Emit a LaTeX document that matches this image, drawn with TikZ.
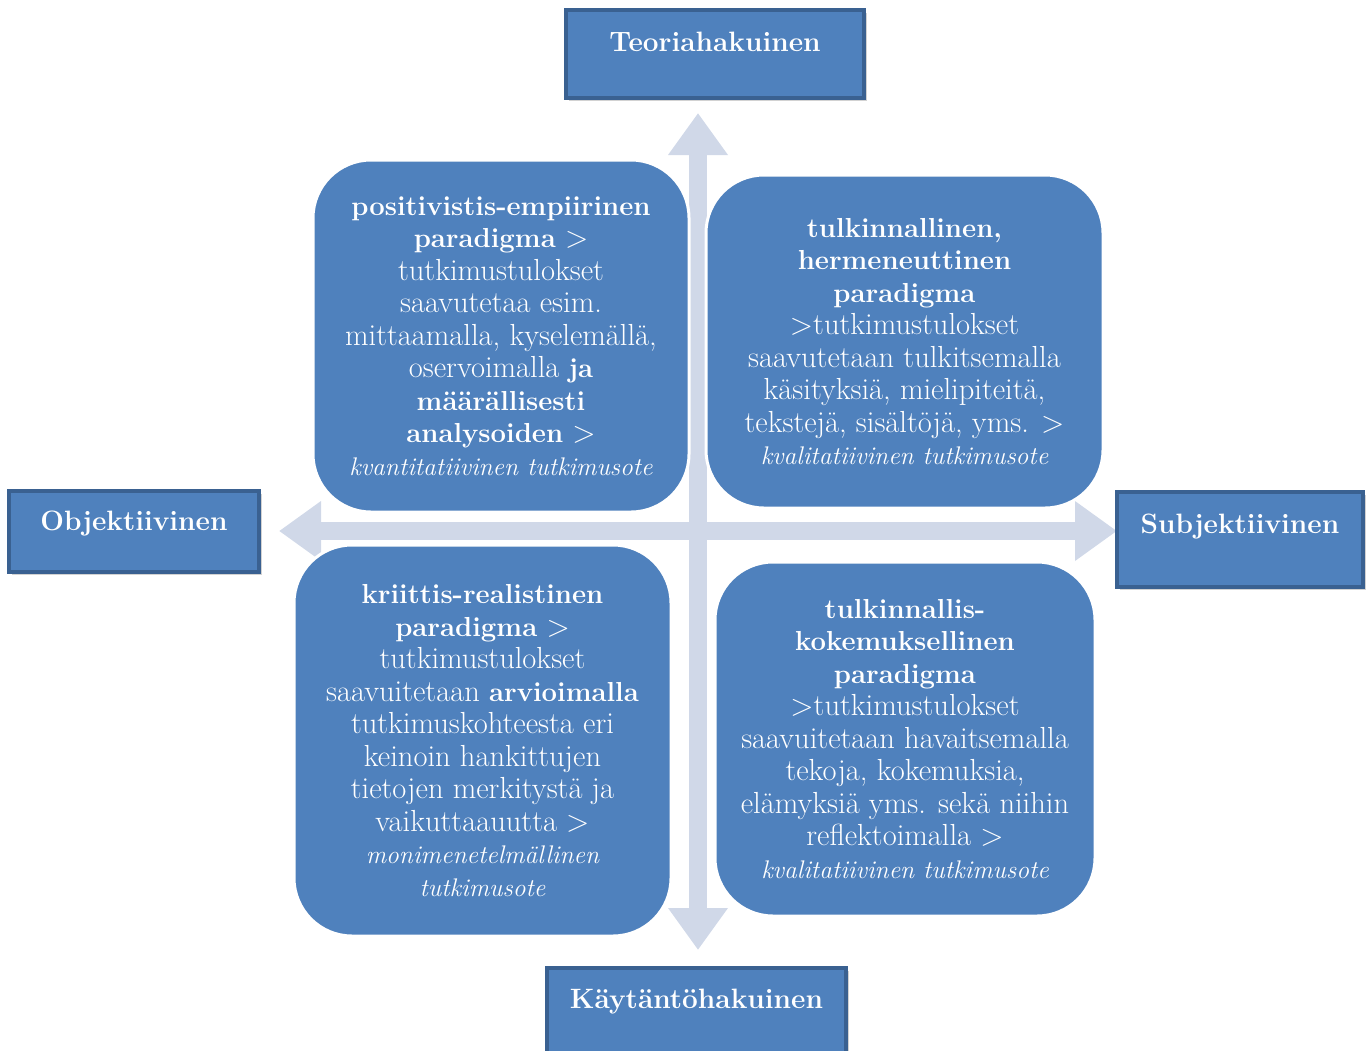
\documentclass[tikz,border=0pt]{standalone}
\usetikzlibrary{arrows.meta,shadows}
\definecolor{boxblue}{HTML}{4F81BD}
\definecolor{boxedge}{HTML}{3A6191}
\definecolor{arrowgrey}{HTML}{D0D8E8}
\newcommand{\qbf}[1]{{\fontsize{27.5}{32.5}\selectfont\bfseries #1}}
\newcommand{\qit}[1]{{\fontsize{25.5}{32.5}\selectfont\itshape #1}}
\tikzset{
  quad/.style={fill=boxblue, draw=white, line width=3pt, rounded corners=58pt,
    text=white, align=center, font=\fontsize{30.5}{32.5}\selectfont, inner sep=0pt},
  axislabel/.style={fill=boxblue, draw=boxedge, line width=3.5pt, text=white,
    font=\bfseries\fontsize{28}{30}\selectfont, inner sep=0pt, text height=18pt,
    drop shadow={shadow xshift=3pt, shadow yshift=-3pt, fill=black!35, opacity=0.5}},
  crossarrow/.style={draw=arrowgrey, line width=18pt,
    {Triangle[width=57pt,length=42pt]}-{Triangle[width=57pt,length=42pt]}}
}
\begin{document}
\begin{tikzpicture}[x=1pt,y=-1pt]
\useasboundingbox (0,0) rectangle (1366,1050);
\clip (0,0) rectangle (1366,1050);
% axis end points
\coordinate (W) at (279,531);
\coordinate (E) at (1117,531);
\coordinate (N) at (698,113);
\coordinate (S) at (698,950);
\draw[crossarrow] (W) -- (E);
\draw[crossarrow] (N) -- (S);
% quadrants
\node[quad, minimum width=376pt, minimum height=352pt] (tl) at (501,336)
 {\qbf{positivistis-empiirinen}\\ \qbf{paradigma} >\\ tutkimustulokset\\ saavutetaa esim.\\ mittaamalla, kyselemällä,\\ oservoimalla \qbf{ja}\\ \qbf{määrällisesti}\\ \qbf{analysoiden} >\\ \qit{kvantitatiivinen tutkimusote}};
\node[quad, minimum width=397pt, minimum height=333pt] (tr) at (904.5,341.5)
 {\qbf{tulkinnallinen,}\\ \qbf{hermeneuttinen}\\ \qbf{paradigma}\\ >tutkimustulokset\\ saavutetaan tulkitsemalla\\ käsityksiä, mielipiteitä,\\ tekstejä, sisältöjä, yms. >\\ \qit{kvalitatiivinen tutkimusote}};
\node[quad, minimum width=377pt, minimum height=391pt] (bl) at (482.5,740.5)
 {\qbf{kriittis-realistinen}\\ \qbf{paradigma} >\\ tutkimustulokset\\ saavuitetaan \qbf{arvioimalla}\\ tutkimuskohteesta eri\\ keinoin hankittujen\\ tietojen merkitystä ja\\ vaikuttaauutta >\\ \qit{monimenetelmällinen}\\ \qit{tutkimusote}};
\node[quad, minimum width=380pt, minimum height=354pt] (br) at (905,739)
 {\qbf{tulkinnallis-}\\ \qbf{kokemuksellinen}\\ \qbf{paradigma}\\ >tutkimustulokset\\ saavuitetaan havaitsemalla\\ tekoja, kokemuksia,\\ elämyksiä yms. sekä niihin\\ reflektoimalla >\\ \qit{kvalitatiivinen tutkimusote}};
% axis labels
\node[axislabel, minimum width=298pt, minimum height=88pt, text depth=24pt] (top) at (715,54) {Teoriahakuinen};
\node[axislabel, minimum width=250pt, minimum height=81pt, text depth=21pt] (left) at (134,531.5) {Objektiivinen};
\node[axislabel, minimum width=246pt, minimum height=95pt, text depth=31pt] (right) at (1240,539.5) {Subjektiivinen};
\node[axislabel, minimum width=299pt, minimum height=92pt, text depth=30pt] (bottom) at (696.5,1014) {Käytäntöhakuinen};
\end{tikzpicture}
\end{document}
